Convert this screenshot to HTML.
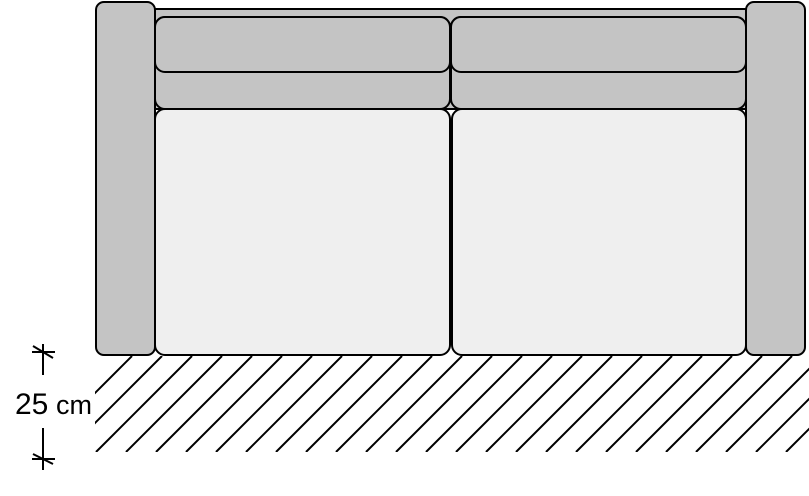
<!DOCTYPE html>
<html><head><style>html,body{margin:0;padding:0;background:#fff;}svg{display:block}</style></head>
<body>
<svg width="809" height="496" viewBox="0 0 809 496" xmlns="http://www.w3.org/2000/svg">
<defs><clipPath id="c"><rect x="95" y="356" width="714" height="96"/></clipPath></defs>
<g clip-path="url(#c)" stroke="#000" stroke-width="2">
<line x1="36" y1="452" x2="132" y2="356"/><line x1="66" y1="452" x2="162" y2="356"/>
<line x1="96" y1="452" x2="192" y2="356"/><line x1="126" y1="452" x2="222" y2="356"/>
<line x1="156" y1="452" x2="252" y2="356"/><line x1="186" y1="452" x2="282" y2="356"/>
<line x1="216" y1="452" x2="312" y2="356"/><line x1="246" y1="452" x2="342" y2="356"/>
<line x1="276" y1="452" x2="372" y2="356"/><line x1="306" y1="452" x2="402" y2="356"/>
<line x1="336" y1="452" x2="432" y2="356"/><line x1="366" y1="452" x2="462" y2="356"/>
<line x1="396" y1="452" x2="492" y2="356"/><line x1="426" y1="452" x2="522" y2="356"/>
<line x1="456" y1="452" x2="552" y2="356"/><line x1="486" y1="452" x2="582" y2="356"/>
<line x1="516" y1="452" x2="612" y2="356"/><line x1="546" y1="452" x2="642" y2="356"/>
<line x1="576" y1="452" x2="672" y2="356"/><line x1="606" y1="452" x2="702" y2="356"/>
<line x1="636" y1="452" x2="732" y2="356"/><line x1="666" y1="452" x2="762" y2="356"/>
<line x1="696" y1="452" x2="792" y2="356"/><line x1="726" y1="452" x2="822" y2="356"/>
<line x1="756" y1="452" x2="852" y2="356"/><line x1="786" y1="452" x2="882" y2="356"/>
</g>
<g stroke="#000" stroke-width="2">
<rect x="155" y="9" width="591" height="100" fill="#c4c4c4"/>
<rect x="155" y="17" width="295" height="92" rx="10" fill="#c4c4c4"/>
<rect x="451" y="17" width="295" height="92" rx="10" fill="#c4c4c4"/>
<rect x="155" y="17" width="295" height="55" rx="10" fill="#c4c4c4"/>
<rect x="451" y="17" width="295" height="55" rx="10" fill="#c4c4c4"/>
<rect x="155" y="109" width="295" height="246" rx="10" fill="#efefef"/>
<rect x="452" y="109" width="294" height="246" rx="10" fill="#efefef"/>
<rect x="96" y="2" width="59" height="353" rx="8" fill="#c4c4c4"/>
<rect x="746" y="2" width="59" height="353" rx="8" fill="#c4c4c4"/>
<line x1="43" y1="344" x2="43" y2="375"/>
<line x1="32" y1="352" x2="55" y2="352"/>
<line x1="33" y1="346" x2="53" y2="358"/>
<line x1="43" y1="428" x2="43" y2="470"/>
<line x1="32" y1="459" x2="55" y2="459"/>
<line x1="33" y1="454" x2="53" y2="464"/>
</g>
<text x="15" y="414" font-family="Liberation Sans, sans-serif" font-size="30">25</text>
<text x="56" y="414" font-family="Liberation Sans, sans-serif" font-size="27">cm</text>
</svg>
</body></html>
